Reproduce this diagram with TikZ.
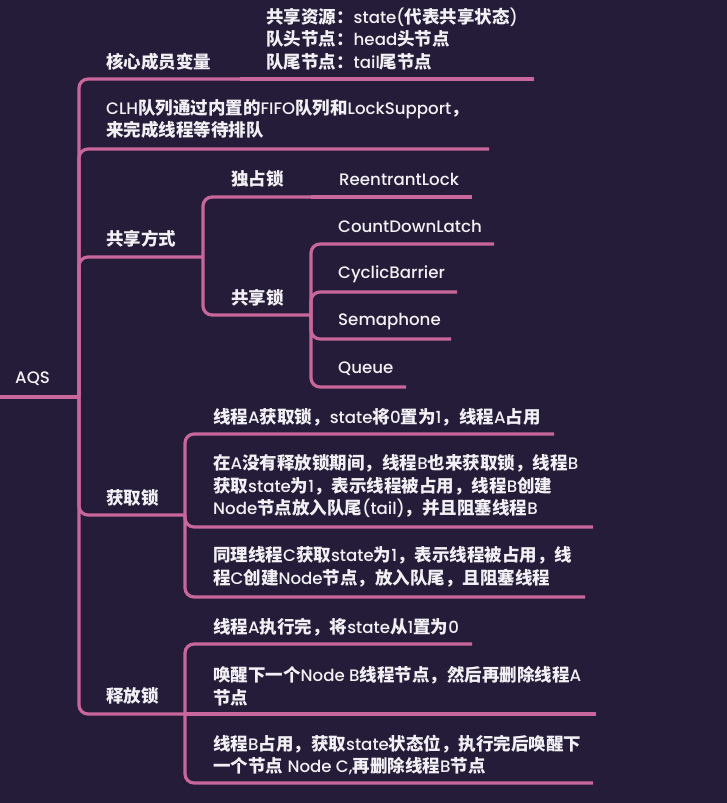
\documentclass[tikz,border=0pt]{standalone}
\usepackage{fontspec}
\setmainfont{Poppins}
\newfontfamily\latf{Poppins}[BoldFont={Poppins Medium},Scale=0.95]
\newfontfamily\cjkf{Noto Sans CJK SC}
\XeTeXinterchartokenstate=1
\newXeTeXintercharclass\cjkclass
\newcount\chcount
\chcount="2E80
\loop\ifnum\chcount<"A000 \XeTeXcharclass\chcount=\cjkclass \advance\chcount by 1 \repeat
\chcount="FF00
\loop\ifnum\chcount<"FFF0 \XeTeXcharclass\chcount=\cjkclass \advance\chcount by 1 \repeat
\XeTeXinterchartoks 0 \cjkclass = {\cjkf}
\XeTeXinterchartoks 4095 \cjkclass = {\cjkf}
\XeTeXinterchartoks \cjkclass 0 = {\latf}
\XeTeXinterchartoks \cjkclass 4095 = {\latf}
\definecolor{bgc}{HTML}{251C39}
\definecolor{linec}{HTML}{C8679B}
\definecolor{txtc}{HTML}{F2F0F4}
\tikzset{
  ul/.style={draw=linec, line width=3.2pt, rounded corners=9pt},
  txt/.style={anchor=west, inner sep=0pt, text=txtc, align=left,
    font=\fontsize{17.5}{22.5}\selectfont\latf\bfseries}
}
\begin{document}
\begin{tikzpicture}[x=1pt,y=-1pt]
\fill[bgc] (0,0) rectangle (727,803);
\useasboundingbox (0,0) rectangle (727,803);

% root
\node[txt] (aqs) at (15,379) {AQS};
\coordinate (aqs-l) at (0,397);
\coordinate (aqs-r) at (79,397);
\draw[ul] (aqs-l) -- (aqs-r);

% core members
\node[txt] (core) at (106,62) {核心成员变量};
\coordinate (core-r) at (240,79);
\draw[ul] (aqs-r) |- (core-r);
\node[txt] (coreinfo) at (266,39) {共享资源：state(代表共享状态)\\队头节点：head头节点\\队尾节点：tail尾节点};
\coordinate (coreinfo-r) at (534,79);
\draw[ul] (core-r) -- (coreinfo-r);

% CLH
\node[txt] (clh) at (106,119) {CLH队列通过内置的FIFO队列和LockSupport，\\来完成线程等待排队};
\coordinate (clh-r) at (489,149);
\draw[ul] (aqs-r) |- (clh-r);

% share modes
\node[txt] (share) at (106,239) {共享方式};
\coordinate (share-r) at (203,257);
\draw[ul] (aqs-r) |- (share-r);

\node[txt] (excl) at (231,179) {独占锁};
\coordinate (excl-r) at (311,197);
\draw[ul] (share-r) |- (excl-r);
\node[txt] (reen) at (339,179) {ReentrantLock};
\coordinate (reen-r) at (472,197);
\draw[ul] (excl-r) -- (reen-r);

\node[txt] (shl) at (231,298) {共享锁};
\coordinate (shl-r) at (311,315);
\draw[ul] (share-r) |- (shl-r);

\node[txt] (cdl) at (338,226) {CountDownLatch};
\coordinate (cdl-r) at (494,244);
\draw[ul] (shl-r) |- (cdl-r);
\node[txt] (cb) at (338,274) {CyclicBarrier};
\coordinate (cb-r) at (457,292);
\draw[ul] (shl-r) |- (cb-r);
\node[txt] (sem) at (338,322) {Semaphone};
\coordinate (sem-r) at (451,339);
\draw[ul] (shl-r) |- (sem-r);
\node[txt] (que) at (338,369) {Queue};
\coordinate (que-r) at (406,387);
\draw[ul] (shl-r) |- (que-r);

% acquire
\node[txt] (acq) at (106,498) {获取锁};
\coordinate (acq-r) at (185,515);
\draw[ul] (aqs-r) |- (acq-r);
\node[txt] (a1) at (213,417) {线程A获取锁，state将0置为1，线程A占用};
\coordinate (a1-r) at (554,434);
\draw[ul] (acq-r) |- (a1-r);
\node[txt] (a2) at (213,486.5) {在A没有释放锁期间，线程B也来获取锁，线程B\\获取state为1，表示线程被占用，线程B创建\\Node节点放入队尾(tail)，并且阻塞线程B};
\coordinate (a2-r) at (593,527);
\draw[ul] (acq-r) |- (a2-r);
\node[txt] (a3) at (213,567) {同理线程C获取state为1，表示线程被占用，线\\程C创建Node节点，放入队尾，且阻塞线程};
\coordinate (a3-r) at (585,597);
\draw[ul] (acq-r) |- (a3-r);

% release
\node[txt] (rel) at (106,696) {释放锁};
\coordinate (rel-r) at (185,714);
\draw[ul] (aqs-r) |- (rel-r);
\node[txt] (r1) at (213,627) {线程A执行完，将state从1置为0};
\coordinate (r1-r) at (472,644);
\draw[ul] (rel-r) |- (r1-r);
\node[txt] (r2) at (213,686) {唤醒下一个Node B线程节点，然后再删除线程A\\节点};
\coordinate (r2-r) at (596,714);
\draw[ul] (rel-r) -- (r2-r);
\node[txt] (r3) at (213,755) {线程B占用，获取state状态位，执行完后唤醒下\\一个节点 Node C,再删除线程B节点};
\coordinate (r3-r) at (593,783);
\draw[ul] (rel-r) |- (r3-r);
\end{tikzpicture}
\end{document}
